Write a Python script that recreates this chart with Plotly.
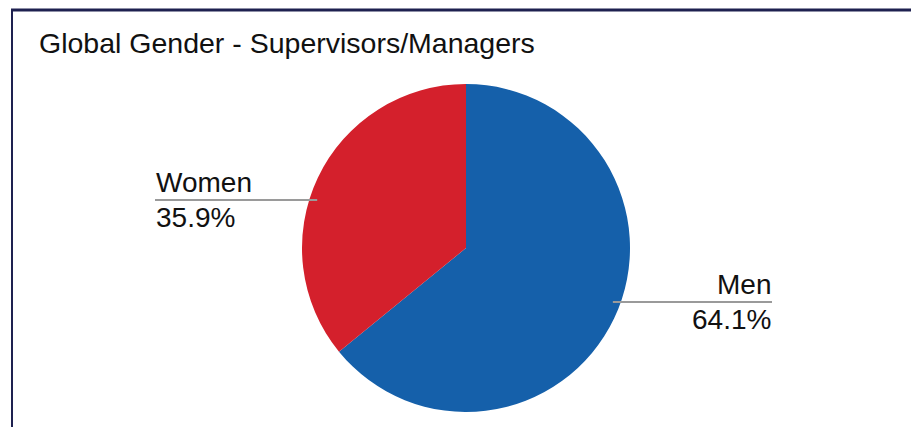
import math
import plotly.graph_objects as go

# Share of supervisors/managers by gender (percent)
labels = ["Men", "Women"]
values = [64.1, 35.9]
colors = ["#1560AA", "#D4202C"]

W, H = 911, 427
FONT = "Liberation Sans, Arial, Helvetica, sans-serif"

# pie placement in pixels
cx, cy, r = 466, 248, 164


def px(x):
    return x / W


def py(y):
    return 1 - y / H


fig = go.Figure(
    go.Pie(
        labels=labels,
        values=values,
        marker=dict(colors=colors, line=dict(width=0)),
        sort=False,
        direction="clockwise",
        rotation=0,
        textinfo="none",
        hoverinfo="label+percent",
        showlegend=False,
        domain=dict(x=[px(cx - r), px(cx + r)], y=[py(cy + r), py(cy - r)]),
    )
)

# label rows: (leader y, text edge x, side)
rows = {"Women": (200, 155, "left"), "Men": (302, 772, "right")}
total = sum(values)
shapes = []
annotations = []
for lab, val in zip(labels, values):
    ly, ex, side = rows[lab]
    dx = math.sqrt(max(r * r - (ly - cy) ** 2, 0))
    if side == "left":
        inner = cx - dx + 8
        x0, x1 = ex, inner
        anchor = "left"
    else:
        inner = cx + dx - 8
        x0, x1 = inner, ex
        anchor = "right"
    shapes.append(dict(type="line", xref="paper", yref="paper",
                       x0=px(x0), x1=px(x1), y0=py(ly), y1=py(ly),
                       line=dict(color="#9a9a9a", width=2)))
    annotations.append(dict(text=lab, xref="paper", yref="paper",
                            x=px(ex), y=py(ly - 1), xanchor=anchor, yanchor="bottom",
                            showarrow=False, borderpad=0,
                            font=dict(family=FONT, size=28, color="#111111")))
    annotations.append(dict(text=f"{val / total * 100:.1f}%", xref="paper", yref="paper",
                            x=px(ex), y=py(ly + 1), xanchor=anchor, yanchor="top",
                            showarrow=False, borderpad=0,
                            font=dict(family=FONT, size=28, color="#111111")))

# frame lines along the top and left edges
shapes.append(dict(type="line", xref="paper", yref="paper",
                   x0=px(11), x1=1, y0=py(10), y1=py(10),
                   line=dict(color="#1e2150", width=3)))
shapes.append(dict(type="line", xref="paper", yref="paper",
                   x0=px(12), x1=px(12), y0=py(10), y1=0,
                   line=dict(color="#1e2150", width=2)))

annotations.append(dict(text="Global Gender - Supervisors/Managers", xref="paper", yref="paper",
                        x=px(38), y=py(26), xanchor="left", yanchor="top",
                        showarrow=False, borderpad=0,
                        font=dict(family=FONT, size=28.5, color="#111111")))

fig.update_layout(
    width=W, height=H,
    margin=dict(l=0, r=0, t=0, b=0),
    paper_bgcolor="white", plot_bgcolor="white",
    shapes=shapes, annotations=annotations,
)

fig.write_html("out.html")
